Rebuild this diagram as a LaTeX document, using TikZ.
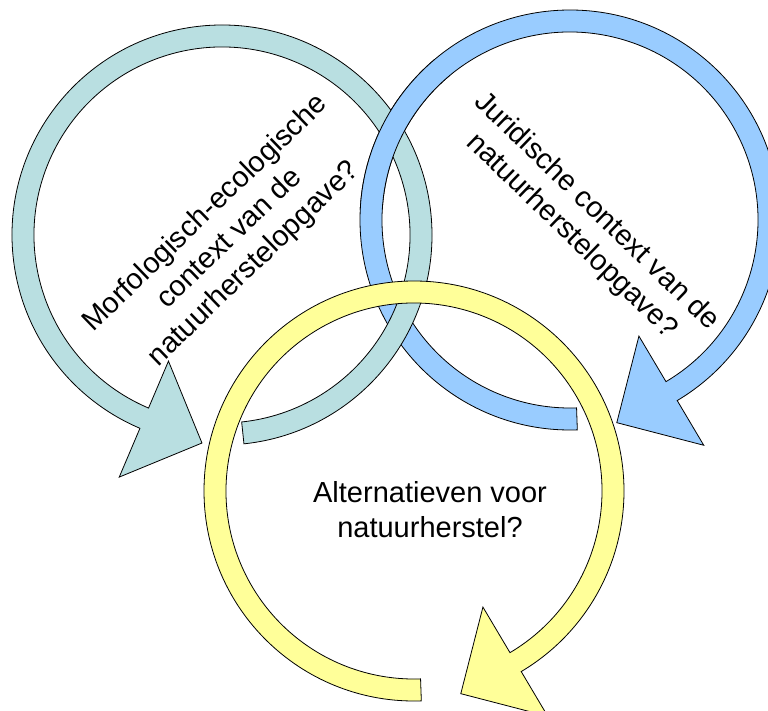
\documentclass[tikz,border=0pt]{standalone}
\usepackage{fontspec}
\setmainfont{Liberation Sans}
\definecolor{morffill}{HTML}{B9DFE1}
\definecolor{jurfill}{HTML}{99CCFF}
\definecolor{altfill}{HTML}{FFFF99}
\tikzset{
    ring/.style={draw=black, line width=0.8pt, line join=miter},
    morfring/.style={ring, fill=morffill},
    jurring/.style={ring, fill=jurfill},
    altring/.style={ring, fill=altfill},
    vraag/.style={align=center, inner sep=0pt, font=\fontsize{29}{35}\selectfont}
    }

\begin{document}
\begin{tikzpicture}[x=1pt, y=1pt]
                \useasboundingbox (0,0) rectangle (768,-711);
                % The right arrow
                \begin{scope}[shift={(570,-220)}]
                    \filldraw[jurring] (-88:210) arc[start angle=-88, end angle=-419.3, radius=210]
                        -- (-59.3:262) -- (-77:208) -- (-59.3:135) -- (-59.3:188)
                        arc[start angle=-419.3, end angle=-88, radius=188] -- cycle;
                \end{scope}
                % The left arrow
                \begin{scope}[shift={(222,-235)}]
                    \filldraw[morfring] (-84:210) arc[start angle=-84, end angle=247, radius=210]
                        -- (247:263) -- (264.5:209) -- (247:137) -- (247:188)
                        arc[start angle=247, end angle=-84, radius=188] -- cycle;
                \end{scope}
                % right arrow again over the upper crossing
                \begin{scope}
                    \clip (340,-60) rectangle (450,-210);
                    \begin{scope}[shift={(570,-220)}]
                        \filldraw[jurring] (-88:210) arc[start angle=-88, end angle=-419.3, radius=210]
                            -- (-59.3:262) -- (-77:208) -- (-59.3:135) -- (-59.3:188)
                            arc[start angle=-419.3, end angle=-88, radius=188] -- cycle;
                    \end{scope}
                \end{scope}
                % The bottom arrow
                \begin{scope}[shift={(414,-491)}]
                    \filldraw[altring] (-88:210) arc[start angle=-88, end angle=-419.3, radius=210]
                        -- (-59.3:262) -- (-77:208) -- (-59.3:135) -- (-59.3:188)
                        arc[start angle=-419.3, end angle=-88, radius=188] -- cycle;
                \end{scope}
                % The questions
                \node(morf)[vraag, rotate=44] at (230,-239) {Morfologisch-ecologische\\context van de\\natuurherstelopgave?};
                \node(jur)[vraag, rotate=-44] at (584,-224) {Juridische context van de\\natuurherstelopgave?};
                \node(alt)[vraag] at (430,-510) {Alternatieven voor\\natuurherstel?};
            \end{tikzpicture}
\end{document}
